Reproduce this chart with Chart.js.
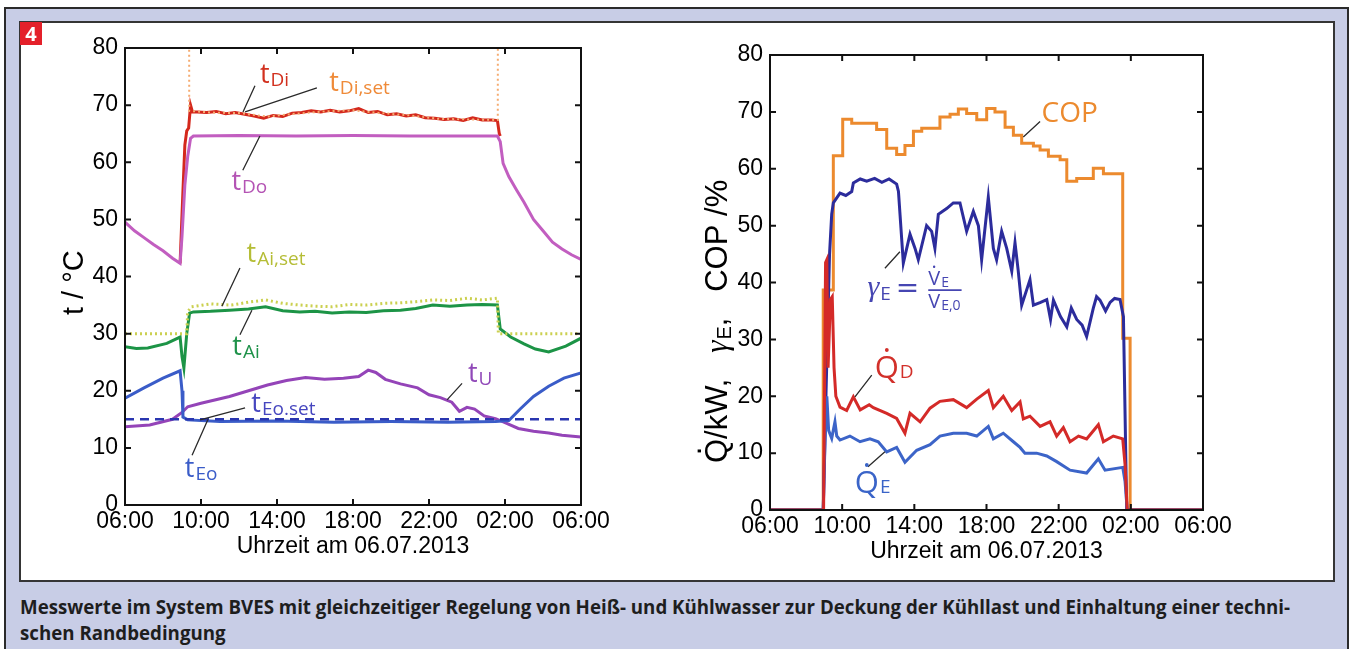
<!DOCTYPE html>
<html>
<head>
<meta charset="utf-8">
<script src="https://cdn.jsdelivr.net/npm/chart.js@4.4.1/dist/chart.umd.min.js"></script>
<style>
  body { margin: 0; background: #fff; width: 1350px; height: 649px; overflow: hidden; position: relative; }
  #outer { position: absolute; left: 4px; top: 7px; width: 1345px; height: 660px; box-sizing: border-box;
           background: #c8cde6; border: 2px solid #2b2b2b; border-bottom: none; }
  #panel { position: absolute; left: 19px; top: 21px; width: 1316px; height: 561px; box-sizing: border-box;
           background: #fff; border: 2px solid #353535; }
  #badge { position: absolute; left: 20px; top: 22px; width: 22px; height: 23px; background: #e4202a; color: #fff;
           font: bold 20px "Open Sans", sans-serif; text-align: center; line-height: 23px; }
  canvas { position: absolute; }
  #cLeft { left: 20px; top: 22px; }
  #cRight { left: 680px; top: 22px; }
  #caption { position: absolute; left: 20px; top: 594px; font: bold 19px "Open Sans", sans-serif; color: #1e1e1e;
             line-height: 26px; white-space: nowrap; }
  #caption span { display: inline-block; transform-origin: 0 0; }
</style>
</head>
<body>
<div id="outer"></div>
<div id="panel"></div>
<canvas id="cLeft" width="620" height="550"></canvas>
<canvas id="cRight" width="640" height="550"></canvas>
<div id="badge">4</div>
<div id="caption"><span id="cap1">Messwerte im System BVES mit gleichzeitiger Regelung von Heiß- und Kühlwasser zur Deckung der Kühllast und Einhaltung einer techni-</span><br><span id="cap2">schen Randbedingung</span></div>
<script>
'use strict';

// ===== AXES =====
// x = hours since 06:00 on 06.07.2013
const hourTicks = ['06:00', '10:00', '14:00', '18:00', '22:00', '02:00', '06:00'];
const xTitle = 'Uhrzeit am 06.07.2013';

// ===== LEFT CHART: temperatures =====
const tDoH = [0, 0.5, 1, 1.5, 2, 2.5, 2.9, 3.0, 3.15, 3.3, 3.45, 3.6, 6, 9, 12, 15, 18, 19.6, 19.75, 19.9, 20.2, 20.6, 21, 21.5, 22, 22.5, 23, 23.5, 24];
const tDoV = [49.5, 48.0, 46.8, 45.6, 44.5, 43.2, 42.3, 47, 56, 61, 64.2, 64.6, 64.7, 64.6, 64.7, 64.6, 64.6, 64.6, 63.6, 59.8, 57.5, 55.2, 53, 50, 48, 46, 44.8, 43.8, 43];

const tDiH = [2.9, 3.05, 3.15, 3.25, 3.35, 3.45, 3.55, 3.8, 4.3, 4.8, 5.3, 5.8, 6.3, 6.8, 7.3, 7.8, 8.3, 8.8, 9.3, 9.8, 10.3, 10.8, 11.3, 11.8, 12.3, 12.8, 13.3, 13.8, 14.3, 14.8, 15.3, 15.8, 16.3, 16.8, 17.3, 17.8, 18.3, 18.8, 19.3, 19.6, 19.7, 19.75];
const tDiV = [42.3, 55, 63, 65.5, 66, 70, 68.8, 68.8, 68.7, 68.9, 68.5, 68.7, 68.4, 68.1, 67.7, 68.2, 68.0, 68.6, 68.7, 69.0, 68.8, 69.1, 68.8, 69.0, 69.4, 68.7, 68.9, 68.3, 68.5, 68.1, 68.3, 67.8, 67.7, 67.5, 67.6, 67.3, 67.8, 67.4, 67.4, 67.3, 65, 64.6];

// set value is off-scale (>80) while the heater is off
const tDiSetH = [0, 3.37, 3.38, 4.5, 6, 7.5, 9, 10.5, 12, 13.5, 15, 16.5, 18, 19.62, 19.63, 24];
const tDiSetV = [100, 100, 69.0, 68.7, 68.6, 68.0, 68.5, 68.9, 69.1, 68.6, 68.2, 67.6, 67.5, 67.4, 100, 100];

const tAiSetH = [0, 3.25, 3.3, 3.5, 4.5, 5.6, 6.5, 7.4, 8.3, 9.2, 10.0, 10.9, 11.8, 12.7, 13.6, 14.5, 15.3, 16.2, 17.1, 18, 18.8, 19.6, 19.65, 24];
const tAiSetV = [30, 30, 33.8, 34.7, 35.2, 35.0, 35.5, 35.9, 35.3, 35.0, 34.8, 34.7, 35.1, 35.0, 35.3, 35.4, 35.6, 35.9, 35.8, 36.2, 35.9, 36.2, 30, 30];

const tAiH = [0, 0.6, 1.2, 2.2, 2.9, 3.0, 3.1, 3.25, 3.4, 3.6, 4.5, 5.5, 6.5, 7.4, 8.3, 9.2, 10.0, 10.9, 11.8, 12.7, 13.6, 14.5, 15.3, 16.2, 17.1, 18, 18.8, 19.6, 19.75, 20.3, 21.0, 21.6, 22.3, 23.2, 24];
const tAiV = [27.7, 27.4, 27.5, 28.3, 29.4, 26, 24, 30, 33.6, 33.8, 33.9, 34.1, 34.3, 34.7, 34.0, 33.8, 33.9, 33.6, 33.8, 33.7, 34.0, 34.1, 34.4, 35.0, 34.8, 35.0, 35.1, 35.0, 30.8, 29.4, 28.2, 27.3, 26.8, 27.8, 29.2];

const tUH = [0, 1.3, 2.5, 3.0, 3.3, 4, 5.5, 6.5, 7.5, 8.5, 9.5, 10.5, 11.5, 12.3, 12.8, 13.2, 13.7, 14.5, 15.4, 16.0, 16.6, 17.2, 17.6, 18.0, 18.4, 18.9, 19.5, 20.0, 20.7, 21.5, 22.3, 23.0, 24];
const tUV = [13.7, 14.0, 15.0, 16.2, 17.2, 17.8, 19.0, 20.0, 21.0, 21.8, 22.3, 22.0, 22.2, 22.5, 23.6, 23.2, 22.0, 21.2, 20.5, 19.3, 18.8, 18.0, 16.4, 17.1, 16.8, 15.6, 15.1, 14.4, 13.4, 12.9, 12.6, 12.2, 11.9];

const tEoH = [0, 1.0, 2.0, 2.9, 3.0, 3.05, 3.3, 5, 8, 11, 14, 17, 19.5, 20.2, 20.8, 21.5, 22.3, 23.1, 24];
const tEoV = [18.7, 20.5, 22.2, 23.5, 20, 15.4, 14.9, 14.6, 14.7, 14.5, 14.6, 14.5, 14.6, 14.8, 16.8, 19.0, 20.8, 22.2, 23.1];

const tEoSetH = [0, 24];
const tEoSetV = [15, 15];

// ===== RIGHT CHART: power, gamma, COP =====
const copH = [0, 2.95, 3.51, 4.03, 4.53, 5.91, 6.47, 7.02, 7.48, 7.95, 8.41, 9.42, 9.98, 10.44, 10.9, 11.46, 12.01, 12.47, 13.03, 13.49, 13.95, 14.6, 14.97, 15.43, 16.08, 16.45, 17.0, 17.92, 18.48, 19.55, 19.96, 24];
const copV = [0, 38.7, 62.3, 68.7, 68.0, 66.9, 63.6, 62.5, 64.1, 66.6, 67.1, 69.1, 69.6, 70.5, 69.7, 68.6, 70.6, 70.0, 67.3, 65.9, 64.5, 64.0, 63.3, 62.2, 61.6, 57.8, 58.3, 60.1, 59.1, 30.2, 0, 0];

const gammaH = [0, 2.95, 3.1, 3.3, 3.42, 3.51, 3.88, 4.2, 4.53, 4.62, 5.0, 5.36, 5.8, 6.2, 6.6, 7.02, 7.12, 7.39, 7.76, 8.04, 8.22, 8.68, 8.96, 9.14, 9.33, 9.79, 10.16, 10.53, 10.9, 11.27, 11.55, 11.73, 12.1, 12.38, 12.56, 12.84, 13.12, 13.4, 13.58, 13.76, 13.95, 14.41, 14.6, 15.0, 15.34, 15.55, 15.71, 16.1, 16.45, 16.7, 17.0, 17.3, 17.55, 17.92, 18.1, 18.29, 18.6, 18.85, 19.1, 19.4, 19.59, 19.77, 24];
const gammaV = [0, 0, 20, 45, 52, 54, 55.7, 55.3, 56, 57.5, 58.2, 57.8, 58.3, 57.6, 58.2, 57.3, 56, 43.4, 48.5, 46, 44, 50, 49, 46, 52, 53, 54, 54, 49, 52.5, 50, 44, 55, 46, 44, 49, 46, 42, 47, 42, 36, 40.5, 36, 36.5, 37, 33.5, 36.9, 34, 32.2, 35.5, 33.5, 32.5, 30.5, 35.5, 37.5, 36.9, 35.0, 36.5, 37.2, 37, 34, 0, 0];

const qdH = [0, 2.97, 3.08, 3.15, 3.22, 3.35, 3.45, 3.55, 3.65, 3.88, 4.25, 4.62, 5.0, 5.5, 5.73, 6.47, 7.02, 7.48, 7.76, 8.32, 8.87, 9.42, 10.16, 10.9, 11.46, 12.1, 12.38, 12.93, 13.4, 13.86, 14.04, 14.41, 14.97, 15.52, 15.89, 16.26, 16.63, 17.1, 17.55, 18.2, 18.48, 19.03, 19.55, 19.68, 19.8, 24];
const qdV = [0, 0, 43.5, 44, 25, 37, 37.5, 25, 20, 18.1, 17.5, 19.9, 17.6, 18.5, 18, 17, 16.1, 13.5, 17, 15.5, 17.9, 19.1, 19.4, 18, 19.5, 21, 18, 20, 17.5, 19, 16, 16.5, 14.7, 15.5, 13, 14.5, 12, 13, 12.5, 15, 12, 13, 12.5, 8, 0, 0];

const qeH = [0, 2.95, 3.05, 3.15, 3.25, 3.42, 3.6, 3.7, 3.88, 4.43, 4.99, 5.54, 6.0, 6.47, 7.02, 7.48, 8.13, 8.87, 9.42, 10.16, 10.9, 11.46, 12.1, 12.38, 12.93, 13.49, 13.86, 14.13, 14.78, 15.34, 15.89, 16.63, 17.55, 18.2, 18.57, 19.55, 19.68, 19.8, 24];
const qeV = [0, 0, 12, 20, 14, 12.6, 15.5, 13, 12.3, 13, 12, 12.5, 12.0, 10.2, 11, 8.4, 10.5, 11.5, 13, 13.5, 13.5, 13, 14.7, 12.5, 13.5, 12, 11, 10, 10, 9.5, 8.5, 7, 6.5, 9, 7, 7.5, 5, 0, 0];

function pts(hs, vs) { return hs.map((h, i) => ({ x: h, y: vs[i] })); }

// ===== SHARED OPTIONS =====
const TICK_FONT = { family: 'Liberation Sans', size: 23 };

function makeOptions(pad, yWidth, xHeight) {
  return {
    responsive: false,
    animation: false,
    events: [],
    layout: { padding: pad },
    plugins: { legend: { display: false }, tooltip: { enabled: false } },
    elements: { point: { radius: 0 }, line: { tension: 0, borderWidth: 3, borderCapStyle: 'butt' } },
    scales: {
      x: {
        type: 'linear', min: 0, max: 24,
        grid: { display: false, drawTicks: false }, border: { display: false },
        ticks: { stepSize: 4, autoSkip: false, maxRotation: 0, color: '#000', font: TICK_FONT, padding: 3,
                 callback: v => hourTicks[v / 4] },
        afterFit: s => { s.height = xHeight; }
      },
      y: {
        min: 0, max: 80,
        grid: { display: false, drawTicks: false }, border: { display: false },
        ticks: { stepSize: 10, color: '#000', font: TICK_FONT, padding: 7 },
        afterFit: s => { s.width = yWidth; }
      }
    }
  };
}

// box with inward ticks on all four sides + x axis title
const frameTicks = {
  id: 'frameTicks',
  afterDraw(chart) {
    const { ctx, chartArea: a, scales: { x, y } } = chart;
    ctx.save();
    ctx.strokeStyle = '#111';
    ctx.lineWidth = 2;
    ctx.strokeRect(a.left, a.top, a.right - a.left, a.bottom - a.top);
    ctx.beginPath();
    x.ticks.forEach(t => {
      const p = x.getPixelForValue(t.value);
      ctx.moveTo(p, a.bottom); ctx.lineTo(p, a.bottom - 6);
      ctx.moveTo(p, a.top); ctx.lineTo(p, a.top + 6);
    });
    y.ticks.forEach(t => {
      const p = y.getPixelForValue(t.value);
      ctx.moveTo(a.left, p); ctx.lineTo(a.left + 6, p);
      ctx.moveTo(a.right, p); ctx.lineTo(a.right - 6, p);
    });
    ctx.stroke();
    ctx.fillStyle = '#000';
    ctx.font = '23px "Liberation Sans"';
    ctx.textAlign = 'center';
    ctx.textBaseline = 'alphabetic';
    ctx.fillText(xTitle, (a.left + a.right) / 2, a.bottom + 48);
    ctx.restore();
  }
};

// text with a subscript; returns end x
function subText(ctx, x, y, main, sub, color, mainFont, subFont, drop) {
  ctx.fillStyle = color;
  ctx.textAlign = 'left';
  ctx.textBaseline = 'alphabetic';
  ctx.font = mainFont;
  ctx.fillText(main, x, y);
  const w = ctx.measureText(main).width;
  if (!sub) return x + w;
  ctx.font = subFont;
  ctx.fillText(sub, x + w + 1, y + drop);
  return x + w + 1 + ctx.measureText(sub).width;
}

// dot accent (a period) centred over a glyph
function dotAbove(ctx, cx, baseY, font, color) {
  ctx.save();
  ctx.fillStyle = color;
  ctx.font = font;
  ctx.textAlign = 'center';
  ctx.fillText('.', cx, baseY);
  ctx.restore();
}

function leaders(chart, list) {
  const { ctx, scales: { x, y } } = chart;
  ctx.save();
  ctx.strokeStyle = '#2a2a2a';
  ctx.lineWidth = 1.3;
  ctx.beginPath();
  list.forEach(l => {
    ctx.moveTo(x.getPixelForValue(l[0]), y.getPixelForValue(l[1]));
    ctx.lineTo(x.getPixelForValue(l[2]), y.getPixelForValue(l[3]));
  });
  ctx.stroke();
  ctx.restore();
}

// ===== LEFT LABELS =====
const leftLabels = [
  { main: 't', sub: 'Di', h: 7.1, v: 73.9, color: '#d2301e' },
  { main: 't', sub: 'Di,set', h: 10.75, v: 72.5, color: '#ef8a38' },
  { main: 't', sub: 'Do', h: 5.6, v: 55.1, color: '#b454b4' },
  { main: 't', sub: 'Ai,set', h: 6.4, v: 42.6, color: '#b5bd36' },
  { main: 't', sub: 'Ai', h: 5.65, v: 26.3, color: '#1f924a' },
  { main: 't', sub: 'U', h: 18.05, v: 21.5, color: '#9048b8' },
  { main: 't', sub: 'Eo.set', h: 6.65, v: 16.3, color: '#4646bf' },
  { main: 't', sub: 'Eo', h: 3.15, v: 4.9, color: '#3a5cc8' }
];
const leftLeaders = [
  [6.84, 73.4, 6.21, 68.8], [10.1, 73.0, 6.32, 68.8], [6.2, 58.6, 7.1, 64.6], [6.05, 41.5, 5.1, 34.8],
  [6.05, 29.8, 6.68, 34.1], [17.74, 21.3, 16.95, 18.4], [6.32, 17.0, 3.95, 14.9], [3.53, 8.7, 4.37, 15.0]
];

const leftDecor = {
  id: 'leftDecor',
  afterDraw(chart) {
    const { ctx, scales: { x, y } } = chart;
    leaders(chart, leftLeaders);
    ctx.save();
    leftLabels.forEach(l => {
      subText(ctx, x.getPixelForValue(l.h), y.getPixelForValue(l.v), l.main, l.sub, l.color,
              '27px "Open Sans"', '19px "Open Sans"', 3);
    });
    // y axis title
    ctx.translate(63, 293);
    ctx.rotate(-Math.PI / 2);
    ctx.fillStyle = '#000';
    ctx.font = '29px "Liberation Sans"';
    ctx.textAlign = 'left';
    ctx.fillText('t / \u00B0C', 0, 0);
    ctx.restore();
  }
};

// ===== RIGHT LABELS =====
const rightLeaders = [
  [14.97, 68.3, 14.04, 65.6], [6.37, 42.5, 7.2, 45.4], [4.71, 19.9, 5.64, 23.7], [5.43, 7.6, 6.37, 10.25]
];

const rightDecor = {
  id: 'rightDecor',
  afterDraw(chart) {
    const { ctx, scales: { x, y } } = chart;
    leaders(chart, rightLeaders);
    ctx.save();
    // COP
    subText(ctx, x.getPixelForValue(15.05), y.getPixelForValue(68.3), 'COP', '', '#ec8a2e', '28px "Open Sans"');
    // Q dot D / Q dot E
    const qf = '31px "Open Sans"', qs = '19px "Open Sans"';
    ctx.font = qf;
    const qw = ctx.measureText('Q').width;
    [[5.8, 23.2, 'D', '#d2302a'], [4.7, 3.0, 'E', '#3a64c8']].forEach(q => {
      const qx = x.getPixelForValue(q[0]), qy = y.getPixelForValue(q[1]);
      subText(ctx, qx, qy, 'Q', q[2], q[3], qf, qs, 0);
      dotAbove(ctx, qx + qw / 2, qy - 26, qf, q[3]);
    });
    // gamma_E = V_E / V_E,0
    const gc = '#4646b2';
    const gx = x.getPixelForValue(5.4), gy = y.getPixelForValue(37.6);
    const ex = subText(ctx, gx, gy, '\u03B3', 'E', gc, 'italic 30px "Liberation Serif"', '19px "Open Sans"', 4);
    ctx.font = '28px "DejaVu Sans"';
    ctx.fillText('=', ex + 5, gy + 1);
    const fx = ex + 5 + ctx.measureText('=').width + 9;
    const vf = '20px "Open Sans"', vs = '14px "Open Sans"';
    const nEnd = subText(ctx, fx, gy - 11, 'V', 'E', gc, vf, vs, 2);
    ctx.font = vf;
    const vw = ctx.measureText('V').width;
    dotAbove(ctx, fx + vw / 2, gy - 28, vf, gc);
    const dEnd = subText(ctx, fx, gy + 12, 'V', 'E,0', gc, vf, vs, 2);
    ctx.strokeStyle = gc; ctx.lineWidth = 1.6;
    ctx.beginPath(); ctx.moveTo(fx, gy - 6); ctx.lineTo(Math.max(nEnd, dEnd) + 1, gy - 6); ctx.stroke();
    // y axis title (rotated)
    ctx.translate(47, 441);
    ctx.rotate(-Math.PI / 2);
    const tf = '31px "Liberation Sans"';
    ctx.font = tf;
    const qW = ctx.measureText('Q').width;
    let tx = subText(ctx, 0, 0, 'Q', '', '#000', tf);
    dotAbove(ctx, qW / 2, -26, tf, '#000');
    tx = subText(ctx, tx, 0, '/kW,   ', '', '#000', tf);
    tx = subText(ctx, tx, 0, '\u03B3', 'E', '#000', 'italic 31px "Liberation Serif"', '20px "Liberation Sans"', 4);
    subText(ctx, tx, 0, ',   COP /%', '', '#000', tf);
    ctx.restore();
  }
};

function line(label, hs, vs, color, extra) {
  return Object.assign({ label, data: pts(hs, vs), borderColor: color, fill: false }, extra || {});
}

// ===== CHARTS =====
new Chart(document.getElementById('cLeft'), {
  type: 'line',
  data: {
    datasets: [
      line('tEo,set', tEoSetH, tEoSetV, '#2a36b0', { borderDash: [9, 6], borderWidth: 2.6 }),
      line('tDi,set', tDiSetH, tDiSetV, '#f5ab70', { borderDash: [2, 3], borderWidth: 2 }),
      line('tDo', tDoH, tDoV, '#c25ec0'),
      line('tDi', tDiH, tDiV, '#d4281c'),
      line('tAi,set', tAiSetH, tAiSetV, '#cbd050', { borderDash: [2, 3] }),
      line('tAi', tAiH, tAiV, '#1c9446'),
      line('tEo', tEoH, tEoV, '#3a5cc8'),
      line('tU', tUH, tUV, '#9444b8')
    ]
  },
  options: makeOptions({ left: 0, top: 26, right: 59, bottom: 0 }, 105, 67),
  plugins: [frameTicks, leftDecor]
});

new Chart(document.getElementById('cRight'), {
  type: 'line',
  data: {
    datasets: [
      line('Q_D', qdH, qdV, '#d42a28'),
      line('Q_E', qeH, qeV, '#3c64c8'),
      line('gamma_E', gammaH, gammaV, '#2c2c9c'),
      line('COP', copH, copV, '#ec8a2e', { stepped: 'before' })
    ]
  },
  options: makeOptions({ left: 0, top: 33, right: 117, bottom: 0 }, 90, 62),
  plugins: [frameTicks, rightDecor]
});

// ===== CAPTION: squeeze to the condensed width of the original =====
const cap1 = document.getElementById('cap1');
const capScale = 1270 / cap1.getBoundingClientRect().width;
cap1.style.transform = 'scaleX(' + capScale + ')';
document.getElementById('cap2').style.transform = 'scaleX(' + capScale + ')';
</script>
</body>
</html>
